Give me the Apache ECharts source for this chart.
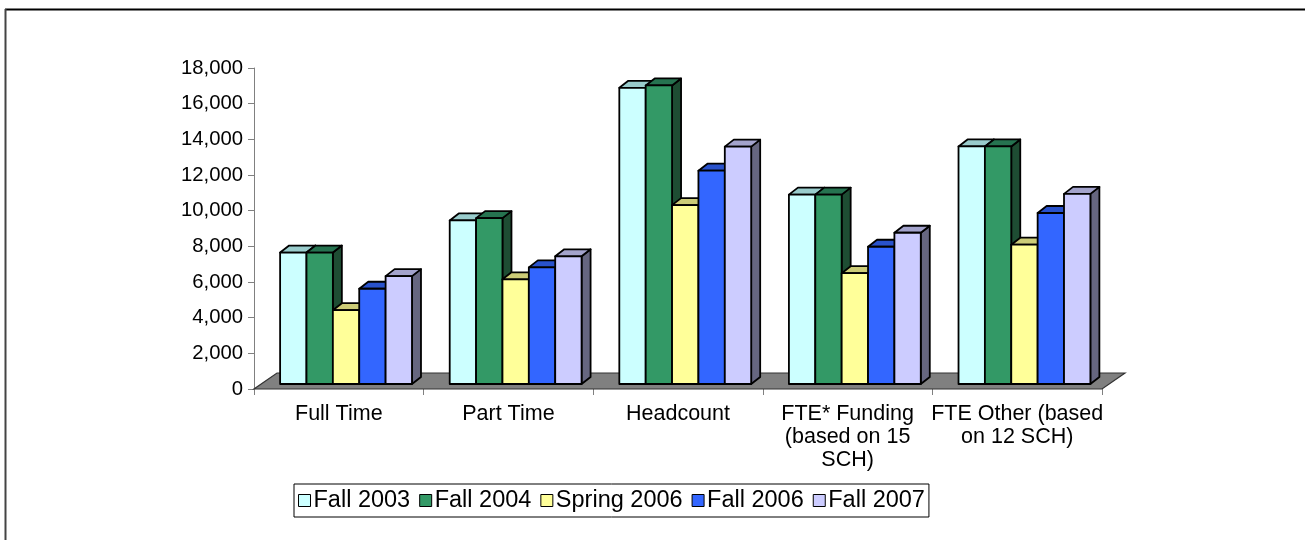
<!DOCTYPE html>
<html>
<head>
<meta charset="utf-8">
<script src="https://cdn.jsdelivr.net/npm/echarts@6/dist/echarts.min.js"></script>
<style>
html,body{margin:0;padding:0;background:#fff;}
#chart{width:1305px;height:540px;}
</style>
</head>
<body>
<div id="chart"></div>
<script>
const categories = ['Full Time', 'Part Time', 'Headcount', 'FTE* Funding\n(based on 15\nSCH)', 'FTE Other (based\non 12 SCH)'];
const seriesNames = ['Fall 2003', 'Fall 2004', 'Spring 2006', 'Fall 2006', 'Fall 2007'];
const fall2003 = [7370, 9170, 16610, 10620, 13320];
const fall2004 = [7370, 9300, 16740, 10620, 13320];
const spring2006 = [4140, 5870, 10030, 6215, 7810];
const fall2006 = [5340, 6540, 11960, 7695, 9590];
const fall2007 = [6050, 7160, 13310, 8480, 10660];
const yTicks = { min: 0, max: 18000, interval: 2000 };

const seriesValues = [fall2003, fall2004, spring2006, fall2006, fall2007];
const frontColors = ['#CCFFFF', '#339966', '#FFFF99', '#3366FF', '#CCCCFF'];
const topColors = ['#99CCCC', '#267350', '#CCCC77', '#2952CC', '#A3A3CC'];
const sideColors = ['#669999', '#1E4D33', '#999966', '#1F3D99', '#666680'];

const FONT = "'Liberation Sans', Arial, sans-serif";
const DX = 9, DY = 7, LIFT = 5;

function barRenderer(s) {
  return function (params, api) {
    const cat = api.value(0), val = api.value(1);
    const base = api.coord([cat, 0]);
    const top = api.coord([cat, val]);
    const band = api.size([1, 0])[0];
    const bw = band * 0.1555;
    const x0 = base[0] - band * 0.346 + s * bw;
    const x1 = x0 + bw;
    const yb = base[1] - LIFT;
    const yt = top[1] - LIFT;
    const st = { stroke: '#000', lineWidth: 1.8, lineJoin: 'round' };
    return {
      type: 'group',
      children: [
        { type: 'polygon', shape: { points: [[x1, yt], [x1 + DX, yt - DY], [x1 + DX, yb - DY], [x1, yb]] },
          style: Object.assign({ fill: sideColors[s] }, st) },
        { type: 'polygon', shape: { points: [[x0, yt], [x0 + DX, yt - DY], [x1 + DX, yt - DY], [x1, yt]] },
          style: Object.assign({ fill: topColors[s] }, st) },
        { type: 'rect', shape: { x: x0, y: yt, width: bw, height: yb - yt },
          style: Object.assign({ fill: frontColors[s] }, st) }
      ]
    };
  };
}

function floorRenderer(params, api) {
  const cs = params.coordSys;
  const fx = cs.x, fy = cs.y + cs.height, w = cs.width;
  return {
    type: 'polygon',
    shape: { points: [[fx, fy], [fx + w, fy], [fx + w + 23, fy - 16], [fx + 23, fy - 16]] },
    style: { fill: '#808080', stroke: '#333', lineWidth: 1.2 }
  };
}

const series = [{
  type: 'custom',
  name: 'floor',
  renderItem: floorRenderer,
  data: [[0, 0]],
  silent: true,
  z: 1
}];
seriesNames.forEach((n, s) => {
  series.push({
    type: 'custom',
    name: n,
    renderItem: barRenderer(s),
    itemStyle: { color: frontColors[s] },
    encode: { x: 0, y: 1 },
    data: seriesValues[s].map((v, i) => [i, v]),
    z: 2 + s
  });
});

const chart = echarts.init(document.getElementById('chart'), null, { renderer: 'canvas' });
chart.setOption({
  animation: false,
  backgroundColor: '#fff',
  textStyle: { fontFamily: FONT },
  grid: { left: 254, top: 68, width: 848, height: 321, containLabel: false },
  xAxis: {
    type: 'category',
    data: categories,
    boundaryGap: true,
    axisLine: { show: false },
    axisTick: { show: true, length: 6, lineStyle: { color: '#808080', width: 1 } },
    axisLabel: { color: '#000', fontSize: 21.5, lineHeight: 23, margin: 14, fontFamily: FONT, interval: 0 },
    splitLine: { show: false }
  },
  yAxis: {
    type: 'value',
    min: yTicks.min, max: yTicks.max, interval: yTicks.interval,
    axisLine: { show: true, lineStyle: { color: '#808080', width: 1 } },
    axisTick: { show: true, length: 6, lineStyle: { color: '#808080' } },
    axisLabel: { color: '#000', fontSize: 20.3, margin: 11, fontFamily: FONT,
      formatter: v => v.toLocaleString('en-US') },
    splitLine: { show: false }
  },
  legend: {
    data: seriesNames,
    left: 294, top: 484,
    orient: 'horizontal',
    icon: 'rect',
    itemWidth: 12, itemHeight: 12, itemGap: 9,
    padding: [4, 4, 4, 4],
    borderColor: '#000', borderWidth: 1,
    itemStyle: { borderColor: '#000', borderWidth: 1 },
    textStyle: { color: '#000', fontSize: 23.5, lineHeight: 25, fontFamily: FONT, padding: [0, 0, 0, -2] }
  },
  graphic: [
    { type: 'line', shape: { x1: 5, y1: 9.5, x2: 1305, y2: 9.5 }, style: { stroke: '#000', lineWidth: 2 }, silent: true },
    { type: 'line', shape: { x1: 5.5, y1: 9, x2: 5.5, y2: 540 }, style: { stroke: '#444', lineWidth: 2 }, silent: true }
  ],
  series: series
});
</script>
</body>
</html>
